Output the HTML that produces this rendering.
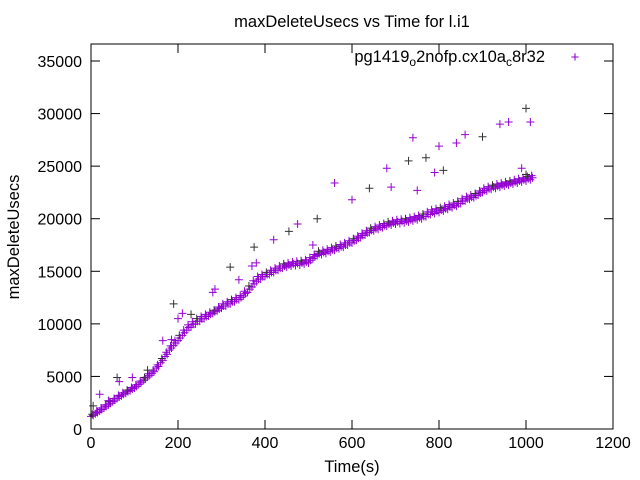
<!DOCTYPE html>
<html><head><meta charset="utf-8"><style>body{margin:0;background:#fff}svg{display:block;font-family:"Liberation Sans",sans-serif}</style></head>
<body>
<svg id="chart" width="640" height="480" xmlns="http://www.w3.org/2000/svg">
<rect width="640" height="480" fill="#fff"/>
<text x="352" y="27" font-size="16.5" text-anchor="middle">maxDeleteUsecs vs Time for l.i1</text>
<text transform="translate(19,237) rotate(-90)" font-size="16.5" text-anchor="middle">maxDeleteUsecs</text>
<text x="352" y="472" font-size="16.5" text-anchor="middle">Time(s)</text>
<g id="axes"></g>
<g id="marks"></g>
<g>
<text x="545" y="62" font-size="16.5" text-anchor="end">pg1419<tspan font-size="12" dy="4">o</tspan><tspan dy="-4">2nofp.cx10a</tspan><tspan font-size="12" dy="4">c</tspan><tspan dy="-4">8r32</tspan></text>
<text x="575" y="62" font-size="15" fill="#9400d3" text-anchor="middle">+</text>
</g>
<rect x="91" y="44" width="522" height="385" fill="none" stroke="#000" stroke-width="1"/>
</svg>
<script>
const xTicks=[0,200,400,600,800,1000,1200];
const yTicks=[0,5000,10000,15000,20000,25000,30000,35000];
const mainTimes=[0,10,20,30,40,50,60,70,80,90,100,110,120,130,140,150,160,170,180,190,200,210,220,230,240,250,260,270,280,290,300,310,320,330,340,350,360,370,380,390,400,410,420,430,440,450,460,470,480,490,500,510,520,530,540,550,560,570,580,590,600,610,620,630,640,650,660,670,680,690,700,710,720,730,740,750,760,770,780,790,800,810,820,830,840,850,860,870,880,890,900,910,920,930,940,950,960,970,980,990,1000,1010];
const mainValues=[1200,1450,1700,2000,2300,2600,2900,3150,3400,3650,3900,4250,4600,4950,5300,5800,6300,6900,7500,7950,8400,8900,9400,9700,10000,10250,10500,10750,11000,11250,11500,11700,11900,12100,12300,12650,13000,13500,14000,14250,14500,14700,14900,15100,15300,15400,15500,15550,15600,15700,15800,16200,16500,16600,16700,16850,17000,17150,17300,17500,17700,17950,18200,18450,18700,18850,19000,19150,19300,19400,19500,19550,19600,19700,19800,19900,20000,20200,20400,20500,20600,20750,20900,21050,21200,21450,21700,21850,22000,22250,22500,22650,22800,22900,23000,23100,23200,23300,23400,23500,23600,23700];
const upperValues=[1400,1700,2000,2300,2600,2900,3200,3450,3700,3950,4200,4550,4900,5250,5600,6100,6700,7300,7900,8400,8900,9400,9900,10200,10500,10700,10900,11100,11300,11600,11900,12100,12300,12500,12700,13100,13600,14100,14500,14700,14900,15100,15300,15500,15700,15800,15900,15950,16000,16100,16300,16600,16900,17000,17100,17250,17400,17550,17700,17900,18100,18350,18600,18850,19100,19250,19400,19550,19700,19800,19900,19950,20000,20100,20200,20300,20450,20650,20850,20950,21050,21200,21350,21500,21650,21900,22100,22250,22400,22650,22900,23050,23200,23300,23400,23500,23600,23700,23800,23900,24000,24100];
const outTimes=[5,20,40,60,65,95,130,165,185,190,200,210,230,280,285,320,340,370,375,380,420,455,475,510,520,560,600,640,680,690,730,740,750,770,790,800,810,840,860,900,940,960,1000,1010,990,1000];
const outValues=[2200,3300,2700,4900,4500,4900,5600,8400,8500,11900,10500,11000,10900,13000,13300,15400,14200,15500,17300,15800,18000,18800,19500,17500,20000,23400,21800,22900,24800,23000,25500,27700,22700,25800,24400,26900,24600,27200,28000,27800,29000,29200,30500,29200,24800,24200];
const X=v=>91+v*522/1200, Y=v=>429-v*368/35000;
const NS="http://www.w3.org/2000/svg";
const axes=document.getElementById('axes'), marks=document.getElementById('marks');
function mk(t,a,p){const e=document.createElementNS(NS,t);for(const k in a)e.setAttribute(k,a[k]);p.appendChild(e);return e;}
xTicks.forEach(v=>{const x=X(v);
mk('line',{x1:x,y1:429,x2:x,y2:420,stroke:'#000'},axes);
mk('line',{x1:x,y1:44,x2:x,y2:53,stroke:'#000'},axes);
const t=mk('text',{x:x,y:448,'font-size':16,'text-anchor':'middle'},axes);t.textContent=v;

});
yTicks.forEach(v=>{const y=Y(v);
mk('line',{x1:91,y1:y,x2:100,y2:y,stroke:'#000'},axes);
mk('line',{x1:613,y1:y,x2:604,y2:y,stroke:'#000'},axes);
const t=mk('text',{x:82,y:y+6,'font-size':16,'text-anchor':'end'},axes);t.textContent=v;

});
function plus(t,v,c){const x=X(t),y=Y(v);
const p=mk('path',{d:`M${x-4} ${y}h8M${x} ${y-4}v8`,stroke:c,'stroke-width':1},marks);

}
mainTimes.forEach((t,i)=>{plus(t,mainValues[i],'#9400d3');plus(t+5,(mainValues[i]+upperValues[i])/2,'#9400d3');plus(t+3,upperValues[i],i%4==0?'#333':'#9400d3');});
outTimes.forEach((t,i)=>plus(t,outValues[i],i%3==0?'#333':'#9400d3'));
</script>
</body></html>
